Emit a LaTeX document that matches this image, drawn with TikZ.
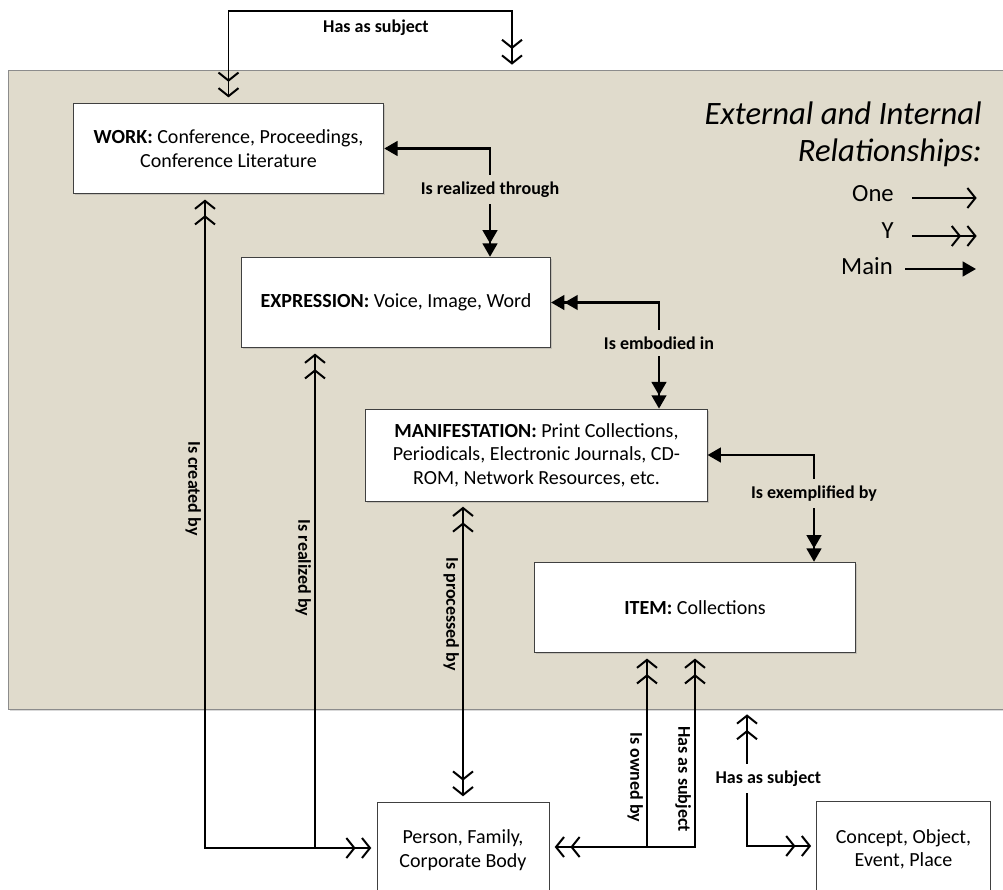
\documentclass[tikz,border=0pt]{standalone}
\usepackage{fontspec}
\setmainfont{Carlito}
\usetikzlibrary{arrows.meta,shadows}
\definecolor{panelbg}{RGB}{224,219,204}

\begin{document}
\begin{tikzpicture}[x=0.75pt,y=-0.75pt,
  entity/.style={rectangle,draw=black!75,line width=0.6pt,fill=white,align=center,font=\fontsize{15}{17.5}\selectfont,inner sep=2pt},
  shade/.style={drop shadow={shadow xshift=1.2pt,shadow yshift=-1.2pt,opacity=0.3}},
  lbl/.style={font=\fontsize{13.5}{15}\selectfont\bfseries,inner sep=2pt},
  vlbl/.style={lbl,rotate=-90,anchor=north,inner sep=2.5pt},
  legfont/.style={font=\fontsize{18.5}{22}\selectfont,anchor=east,inner sep=0pt},
  rel/.style={line width=0.9pt,>={Straight Barb[length=6pt,width=15pt,line width=1.5pt,sep=4pt]}},
  mainrel/.style={line width=1.8pt,>={Triangle[length=10pt,width=11pt,sep=0pt]}}]
\useasboundingbox (0,0) rectangle (1003,889);
\clip (0,0) rectangle (1003,889);

% background panel
\path[fill=panelbg,draw=black!45,line width=0.6pt,shade] (8,70) rectangle (1012,709);
\coordinate (paneltop) at (512,70);
\coordinate (panelbot) at (747,709);

% entities
\node[entity,shade,minimum width=233pt,minimum height=68pt] (work) at (228.5,148.5) {\textbf{WORK:} Conference, Proceedings,\\Conference Literature};
\node[entity,shade,minimum width=232pt,minimum height=68pt] (expression) at (396,302.5) {\textbf{EXPRESSION:} Voice, Image, Word};
\node[entity,shade,minimum width=256pt,minimum height=69pt] (manifestation) at (536.5,455) {\textbf{MANIFESTATION:} Print Collections,\\Periodicals, Electronic Journals, CD-\\ROM, Network Resources, etc.};
\node[entity,shade,minimum width=241pt,minimum height=68pt] (item) at (695,607.5) {\textbf{ITEM:} Collections};
\node[entity,minimum width=129pt,minimum height=72pt] (person) at (463,850) {Person, Family,\\Corporate Body};
\node[entity,minimum width=130pt,minimum height=72pt] (concept) at (903.5,849) {Concept, Object,\\Event, Place};

% legend
\node[font=\fontsize{24.5}{28}\selectfont\itshape,align=right,anchor=east,inner sep=0pt] (legtitle) at (982,134) {External and Internal\\Relationships:};
\node[legfont] (lgone) at (894,194) {One};
\node[legfont] (lgy) at (894,231) {Y};
\node[legfont] (lgmain) at (893,266) {Main};
\coordinate (one-s) at (912,198); \coordinate (one-e) at (982,198);
\coordinate (y-s) at (912,236); \coordinate (y-e) at (982,236);
\coordinate (main-s) at (905,269); \coordinate (main-e) at (976,269);
\draw[rel,->] (one-s) -- (one-e);
\draw[rel,->>] (y-s) -- (y-e);
\draw[mainrel,->] (main-s) -- (main-e);

% work -- has as subject
\coordinate (tsub) at (512,11);
\draw[rel,<<->>] (work.north) |- node[lbl,pos=0.76,below=4pt] (lsub1) {Has as subject} (tsub) -- (paneltop);

% main relationships
\coordinate (rthr) at (490,149);
\coordinate (remb) at (659,303);
\coordinate (rexe) at (814,453);
\draw[mainrel,<->>] (work.east) -| node[lbl,pos=0.69,fill=panelbg,inner ysep=5pt] (lthr) {Is realized through} (expression.north -| rthr);
\draw[mainrel,<<->>] (expression.east) -| node[lbl,pos=0.69,fill=panelbg,inner ysep=5pt] (lemb) {Is embodied in} (manifestation.north -| remb);
\draw[mainrel,<->>] (manifestation.east) -| node[lbl,pos=0.68,fill=panelbg,inner ysep=5pt] (lexe) {Is exemplified by} (item.north -| rexe);

% person, family, corporate body
\coordinate (ccre) at (205,848);
\coordinate (crea) at (315,848);
\draw[rel,<<->>] (work.south -| ccre) -- node[vlbl,pos=0.45] (lcre) {Is created by} (ccre) -- (person.west |- ccre);
\draw[rel,<<-] (expression.south -| crea) -- node[vlbl,pos=0.44] (lrea) {Is realized by} (crea);
\draw[rel,<<->>] (manifestation.south -| person.north) -- node[vlbl,pos=0.375] (lpro) {Is processed by} (person.north);

\coordinate (cown) at (647,847);
\coordinate (csub) at (695,847);
\draw[rel,<<->>] (item.south -| cown) -- node[vlbl,pos=0.64] (lown) {Is owned by} (cown) -- (person.east |- cown);
\draw[rel,<<-] (item.south -| csub) -- node[vlbl,pos=0.65] (lsub2) {Has as subject} (csub) -- (cown);

% concept, object, event, place
\coordinate (ccon) at (747,846);
\draw[rel,<<->>] (panelbot) -- node[lbl,pos=0.51,fill=white,xshift=16pt,inner ysep=5pt] (lsub3) {Has as subject} (ccon) -- (concept.west |- ccon);
\end{tikzpicture}
\end{document}
